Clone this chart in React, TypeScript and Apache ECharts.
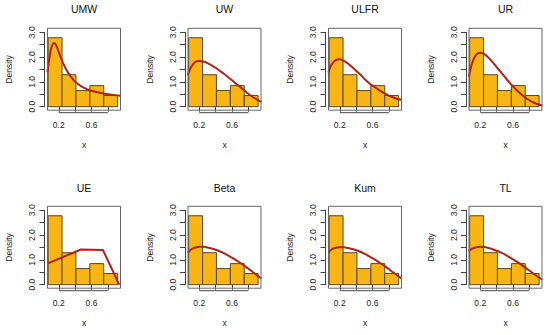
import React, { useEffect, useRef } from "react";
import * as echarts from "echarts";

const panelNames = ["UMW", "UW", "ULFR", "UR", "UE", "Beta", "Kum", "TL"];
const binEdges = [0.07, 0.24, 0.41, 0.58, 0.75, 0.92];
const densities = [2.78, 1.29, 0.65, 0.85, 0.45];
const xTicks = [0.2, 0.4, 0.6, 0.8];
const xTickLabels = [0.2, 0.6];
const yTicks = [0, 0.5, 1, 1.5, 2, 2.5, 3];
const yTickLabels = [0, 1, 2, 3];

const umwCurve = [[0.06, 1.38], [0.08, 1.85], [0.10, 2.25], [0.12, 2.48], [0.14, 2.57], [0.16, 2.52], [0.18, 2.38], [0.20, 2.2], [0.25, 1.78], [0.30, 1.45], [0.35, 1.2], [0.40, 1.01], [0.45, 0.88], [0.50, 0.78], [0.55, 0.7], [0.60, 0.64], [0.70, 0.56], [0.80, 0.5], [0.90, 0.46], [0.96, 0.44]];
const uwCurve = [[0.06, 1.28], [0.10, 1.6], [0.15, 1.8], [0.20, 1.84], [0.25, 1.82], [0.30, 1.76], [0.35, 1.67], [0.40, 1.57], [0.45, 1.45], [0.50, 1.33], [0.55, 1.2], [0.60, 1.07], [0.65, 0.93], [0.70, 0.8], [0.75, 0.66], [0.80, 0.52], [0.85, 0.4], [0.90, 0.3], [0.96, 0.2]];
const ulfrCurve = [[0.06, 1.38], [0.10, 1.7], [0.15, 1.88], [0.20, 1.91], [0.25, 1.85], [0.30, 1.74], [0.35, 1.6], [0.40, 1.45], [0.45, 1.3], [0.50, 1.13], [0.55, 0.98], [0.60, 0.85], [0.65, 0.74], [0.70, 0.63], [0.75, 0.54], [0.80, 0.45], [0.85, 0.38], [0.90, 0.32], [0.96, 0.27]];
const urCurve = [[0.06, 1.2], [0.10, 1.75], [0.15, 2.1], [0.20, 2.18], [0.25, 2.12], [0.30, 1.98], [0.35, 1.8], [0.40, 1.6], [0.45, 1.4], [0.50, 1.2], [0.55, 1.0], [0.60, 0.82], [0.65, 0.65], [0.70, 0.5], [0.75, 0.37], [0.80, 0.26], [0.85, 0.17], [0.90, 0.1], [0.96, 0.05]];
const ueCurve = [[0.06, 0.85], [0.47, 1.42], [0.74, 1.40], [0.94, 0.0]];
const betaCurve = [[0.06, 1.28], [0.10, 1.42], [0.15, 1.5], [0.20, 1.53], [0.25, 1.53], [0.30, 1.5], [0.35, 1.46], [0.40, 1.41], [0.45, 1.35], [0.50, 1.27], [0.55, 1.18], [0.60, 1.09], [0.65, 0.99], [0.70, 0.88], [0.75, 0.77], [0.80, 0.65], [0.85, 0.52], [0.90, 0.39], [0.96, 0.25]];
const kumCurve = [[0.06, 1.3], [0.10, 1.42], [0.15, 1.49], [0.20, 1.51], [0.25, 1.51], [0.30, 1.48], [0.35, 1.44], [0.40, 1.39], [0.45, 1.33], [0.50, 1.25], [0.55, 1.16], [0.60, 1.07], [0.65, 0.97], [0.70, 0.86], [0.75, 0.75], [0.80, 0.63], [0.85, 0.5], [0.90, 0.38], [0.96, 0.24]];
const tlCurve = [[0.06, 1.35], [0.10, 1.45], [0.15, 1.51], [0.20, 1.53], [0.25, 1.52], [0.30, 1.48], [0.35, 1.43], [0.40, 1.37], [0.45, 1.3], [0.50, 1.22], [0.55, 1.12], [0.60, 1.02], [0.65, 0.92], [0.70, 0.81], [0.75, 0.69], [0.80, 0.57], [0.85, 0.45], [0.90, 0.33], [0.96, 0.2]];
const curves = [umwCurve, uwCurve, ulfrCurve, urCurve, ueCurve, betaCurve, kumCurve, tlCurve];
const smoothFlags = [true, true, true, true, false, true, true, true];

const FONT = "'Liberation Sans', Arial, Helvetica, sans-serif";
const X_MIN = 0.062;
const X_MAX = 0.955;
const colLefts = [47.5, 188, 328.5, 469];
const rowTops = [32.3, 210.3];
const titleYs = [8.5, 187.5];
const GRID_W = 73;
const GRID_H = 74.4;
const BAR_FILL = "#F8B513";
const BAR_STROKE = "#5a4a1e";
const CURVE = "#B02418";

export default function App() {
  const ref = useRef<HTMLDivElement>(null);
  useEffect(() => {
    if (!ref.current) return;
    const chart = echarts.init(ref.current, null, { renderer: "svg" });
    const histData = densities.map((d, i) => [binEdges[i], binEdges[i + 1], d]);

    const grids: any[] = [];
    const xAxes: any[] = [];
    const yAxes: any[] = [];
    const series: any[] = [];
    panelNames.forEach((name, i) => {
      const col = i % 4;
      const row = Math.floor(i / 4);
      const left = colLefts[col];
      const top = rowTops[row];
      grids.push({ left, top, width: GRID_W, height: GRID_H, containLabel: false });
      xAxes.push({
        type: "value",
        gridIndex: i,
        min: X_MIN,
        max: X_MAX,
        offset: 6,
        name: "x",
        nameLocation: "middle",
        nameGap: 28,
        nameTextStyle: { fontFamily: FONT, fontSize: 8.5, color: "#222" },
        axisLine: { show: false },
        axisTick: { show: true, customValues: xTicks, length: 5, lineStyle: { color: "#444" } },
        axisLabel: {
          show: true,
          customValues: xTickLabels,
          formatter: (v: number) => v.toFixed(1),
          margin: 8,
          fontFamily: FONT,
          fontSize: 8.5,
          color: "#222",
        },
        splitLine: { show: false },
      });
      yAxes.push({
        type: "value",
        gridIndex: i,
        min: 0,
        max: 3,
        offset: 3,
        name: "Density",
        nameLocation: "middle",
        nameRotate: 90,
        nameGap: 31,
        nameTextStyle: { fontFamily: FONT, fontSize: 8.5, color: "#222" },
        axisLine: { show: true, lineStyle: { color: "#444", width: 1 } },
        axisTick: { show: true, customValues: yTicks, length: 5, lineStyle: { color: "#444" } },
        axisLabel: {
          show: true,
          customValues: yTickLabels,
          rotate: 90,
          formatter: (v: number) => v.toFixed(1),
          margin: 8,
          fontFamily: FONT,
          fontSize: 8.5,
          color: "#222",
        },
        splitLine: { show: false },
      });
      series.push({
        type: "custom",
        xAxisIndex: i,
        yAxisIndex: i,
        data: histData,
        encode: { x: [0, 1], y: 2 },
        clip: false,
        renderItem: (params: any, api: any) => {
          const p0 = api.coord([api.value(0), api.value(2)]);
          const p1 = api.coord([api.value(1), 0]);
          return {
            type: "rect",
            shape: { x: p0[0], y: p0[1], width: p1[0] - p0[0], height: p1[1] - p0[1] },
            style: { fill: BAR_FILL, stroke: BAR_STROKE, lineWidth: 1 },
          };
        },
        z: 2,
      });
      series.push({
        type: "line",
        xAxisIndex: i,
        yAxisIndex: i,
        data: curves[i],
        smooth: smoothFlags[i] ? 0.3 : false,
        showSymbol: false,
        clip: true,
        lineStyle: { color: CURVE, width: 2 },
        z: 3,
      });
    });

    chart.setOption({
      animation: false,
      backgroundColor: "#ffffff",
      grid: grids,
      xAxis: xAxes,
      yAxis: yAxes,
      series,
    });

    const graphics: any[] = [];
    panelNames.forEach((name, i) => {
      const col = i % 4;
      const row = Math.floor(i / 4);
      const left = colLefts[col];
      const top = rowTops[row];
      graphics.push({
        type: "text",
        x: left + GRID_W / 2,
        y: titleYs[row],
        style: {
          text: name,
          fontFamily: FONT,
          fontSize: 10.5,
          fontWeight: "normal",
          fill: "#111",
          textAlign: "center",
          textVerticalAlign: "middle",
        },
        z: 10,
      });
      graphics.push({
        type: "rect",
        shape: { x: left, y: top - 4, width: GRID_W, height: GRID_H + 7.5 },
        style: { fill: "none", stroke: "#666", lineWidth: 1 },
        z: 10,
      });
      const xa = chart.convertToPixel({ xAxisIndex: i } as any, xTicks[0]) as number;
      const xb = chart.convertToPixel({ xAxisIndex: i } as any, xTicks[xTicks.length - 1]) as number;
      const yLine = top + GRID_H + 6;
      graphics.push({
        type: "line",
        shape: { x1: xa, y1: yLine, x2: xb, y2: yLine },
        style: { stroke: "#444", lineWidth: 1 },
        z: 10,
      });
    });
    chart.setOption({ graphic: graphics });

    return () => chart.dispose();
  }, []);
  return (
    <div
      ref={ref}
      style={{ position: "fixed", left: 0, top: 0, width: 550, height: 335, background: "#fff" }}
    />
  );
}
